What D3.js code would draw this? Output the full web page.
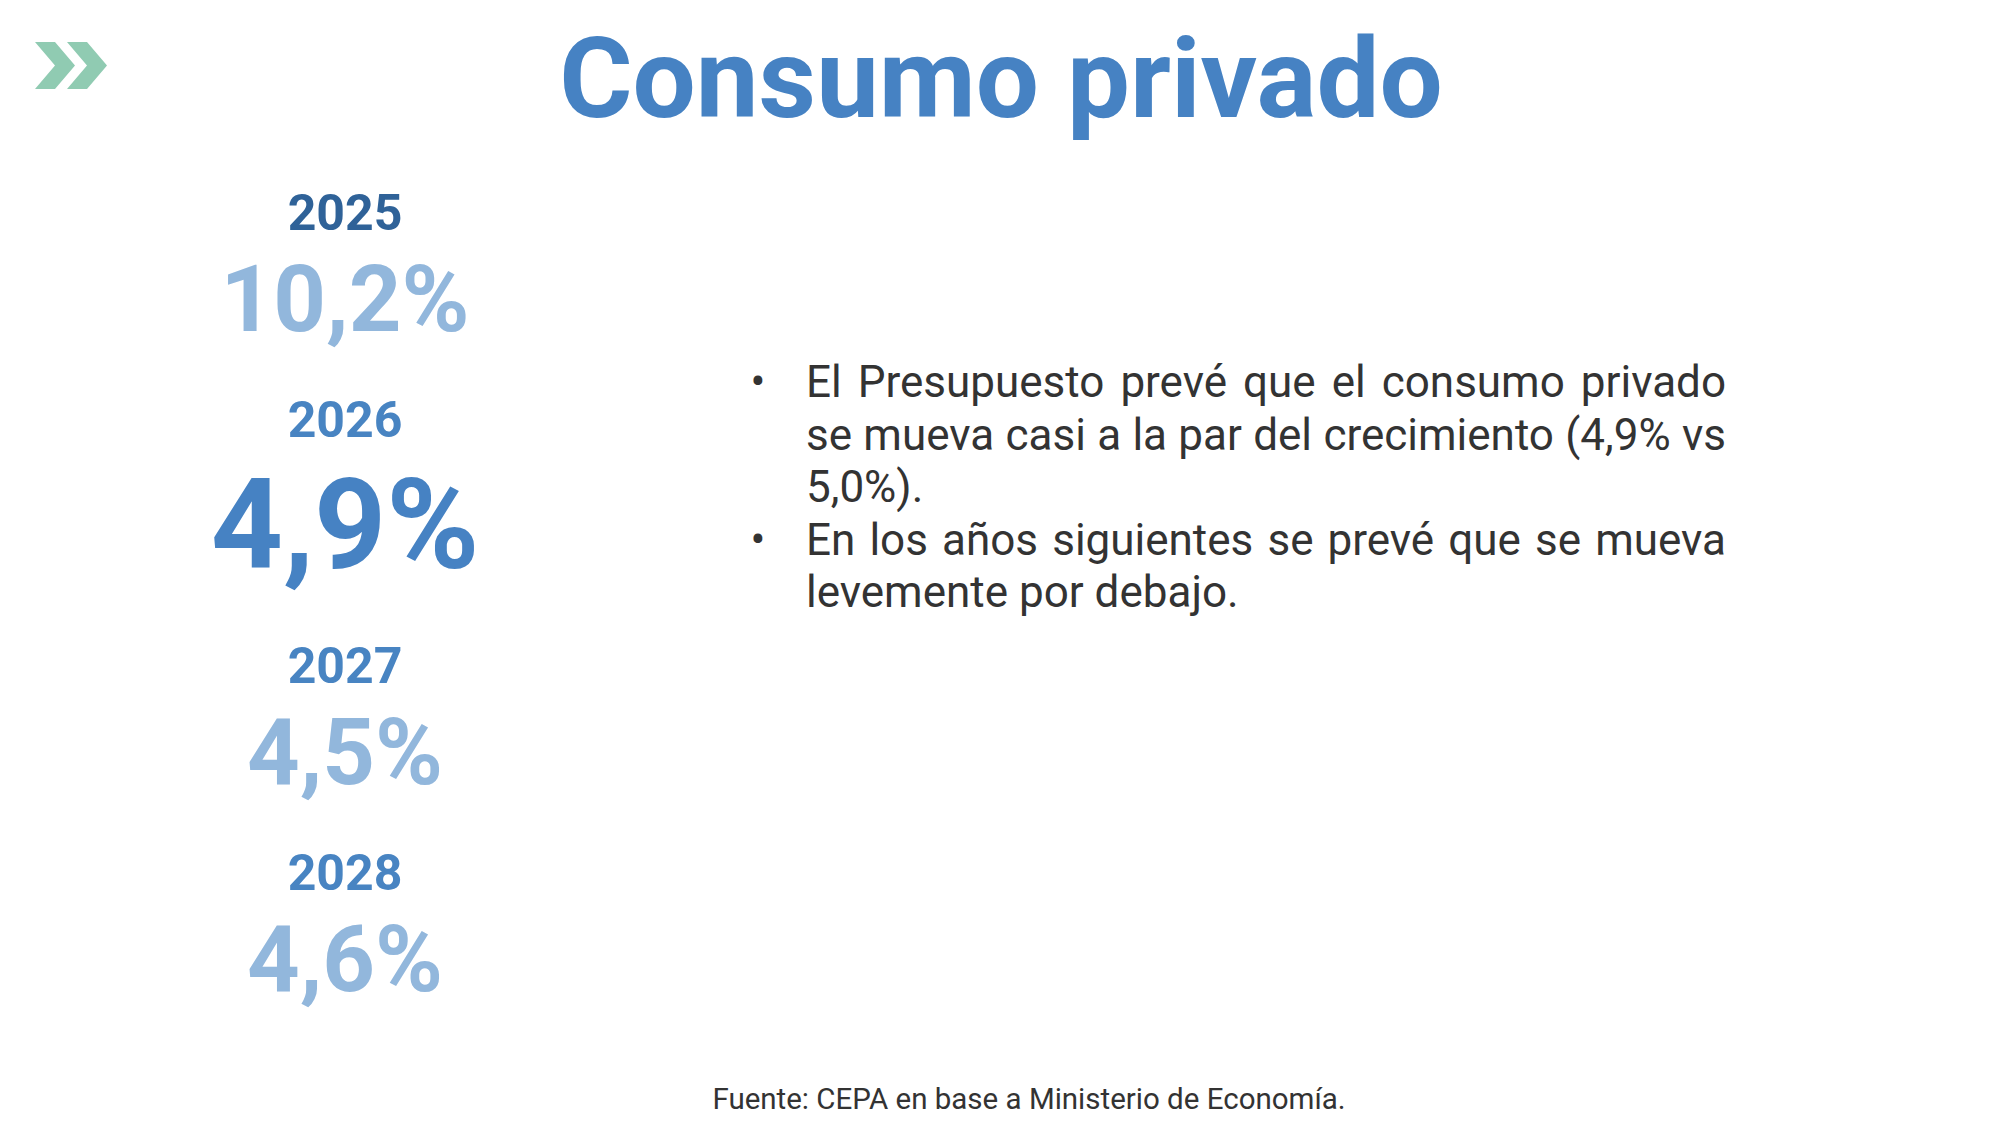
<!DOCTYPE html>
<html>
<head>
<meta charset="utf-8">
<script src="https://cdn.jsdelivr.net/npm/d3@7"></script>
<style>
  html, body { margin: 0; padding: 0; background: #ffffff; }
  svg { display: block; }
</style>
</head>
<body>
<div id="chart"></div>
<script>
// ---- data ----
const title = "Consumo privado";
const years = ["2025", "2026", "2027", "2028"];
const values = [10.2, 4.9, 4.5, 4.6];
const highlightYear = "2026";
const bulletLines = [
  ["El Presupuesto prevé que el consumo privado",
   "se mueva casi a la par del crecimiento (4,9% vs",
   "5,0%)."],
  ["En los años siguientes se prevé que se mueva",
   "levemente por debajo."]
];
const source = "Fuente: CEPA en base a Ministerio de Economía.";

// ---- setup ----
const W = 2000, H = 1125;
const svg = d3.select("#chart").append("svg")
  .attr("width", W).attr("height", H)
  .attr("viewBox", `0 0 ${W} ${H}`);
svg.append("rect").attr("width", W).attr("height", H).attr("fill", "#ffffff");

const FONT = "Roboto, 'Noto Sans', sans-serif";
const esLocale = d3.formatLocale({ decimal: ",", thousands: ".", grouping: [3], currency: ["$", ""] });
const fmt = v => esLocale.format(".1f")(v) + "%";

// chevron logo
const chev = d3.line();
[0, 32].forEach(dx => {
  svg.append("path")
    .attr("d", chev([[35 + dx, 42], [55 + dx, 42], [75 + dx, 65.5], [55 + dx, 89], [35 + dx, 89], [55 + dx, 65.5]]) + "Z")
    .attr("fill", "#90CBB2");
});

// title
svg.append("text")
  .attr("x", 1001).attr("y", 117)
  .attr("text-anchor", "middle")
  .attr("font-family", FONT).attr("font-weight", 700)
  .attr("font-size", 112).attr("fill", "#4682C3")
  .text(title);

// ---- left column: year / value blocks ----
const colX = 345;
const layout = [];
let yy = 230;
years.forEach((yr, i) => {
  const hl = yr === highlightYear;
  const valY = yy + (hl ? 131 : 101);
  layout.push({ year: yr, value: values[i], hl, yearY: yy, valY, first: i === 0 });
  yy = valY + (hl ? 115 : 106);
});

const blocks = svg.append("g").selectAll("g").data(layout).join("g");
blocks.append("text")
  .attr("x", colX).attr("y", d => d.yearY)
  .attr("text-anchor", "middle")
  .attr("font-family", FONT).attr("font-weight", 700)
  .attr("font-size", 50)
  .attr("fill", d => d.first ? "#2F6298" : "#4884C2")
  .text(d => d.year);
blocks.append("text")
  .attr("x", colX).attr("y", d => d.valY)
  .attr("text-anchor", "middle")
  .attr("font-family", FONT).attr("font-weight", 700)
  .attr("font-size", d => d.hl ? 126 : 92)
  .attr("fill", d => d.hl ? "#4682C3" : "#92B7DC")
  .text(d => fmt(d.value));

// ---- bullets (justified) ----
const textX = 806, textW = 920, bulletX = 758, fs = 44, lh = 52.5;
let baseY = 397;
const bg = svg.append("g")
  .attr("font-family", FONT).attr("font-size", fs).attr("fill", "#333333");

const measurer = bg.append("text").attr("x", -9999).attr("y", -9999);
const measure = s => { measurer.text(s); return measurer.node().getComputedTextLength(); };
const spaceW = measure("a a") - measure("aa");

bulletLines.forEach(lines => {
  bg.append("text").attr("x", bulletX).attr("y", baseY)
    .attr("text-anchor", "middle").text("•");

  lines.forEach((line, li) => {
    const lw = line.split(" ");
    const last = li === lines.length - 1;
    const widths = lw.map(measure);
    const total = d3.sum(widths);
    const gap = (!last && lw.length > 1) ? (textW - total) / (lw.length - 1) : spaceW;
    const t = bg.append("text").attr("y", baseY);
    let x = textX;
    lw.forEach((w, wi) => {
      t.append("tspan").attr("x", x).text(w);
      x += widths[wi] + gap;
    });
    baseY += lh;
  });
});
measurer.remove();

// ---- source ----
svg.append("text")
  .attr("x", 1029).attr("y", 1109)
  .attr("text-anchor", "middle")
  .attr("font-family", FONT).attr("font-size", 29.5)
  .attr("fill", "#333333")
  .text(source);
</script>
</body>
</html>
